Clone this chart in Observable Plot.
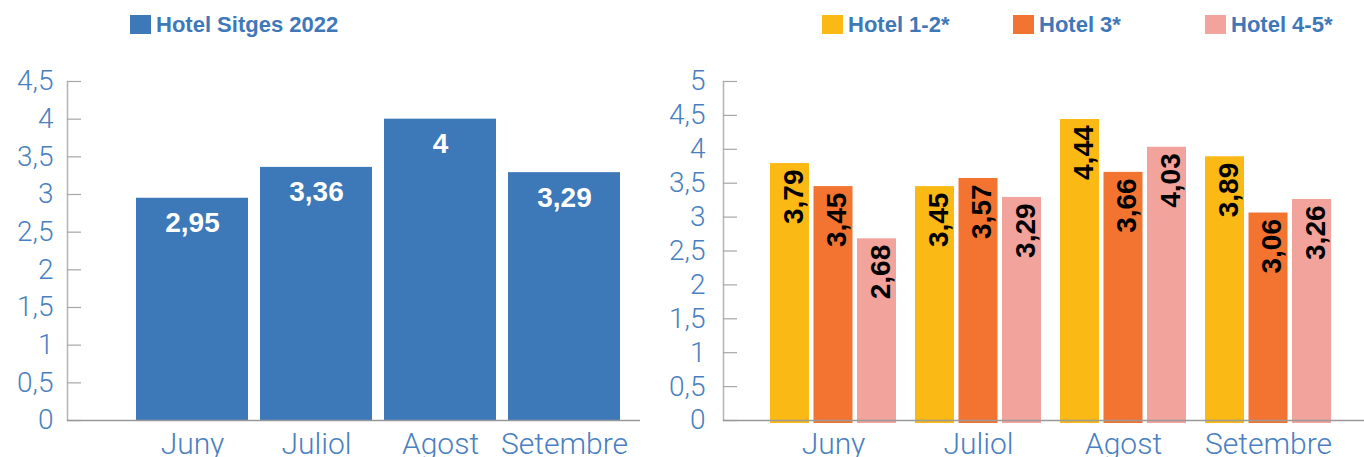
<!DOCTYPE html>
<html><head><meta charset="utf-8">
<script src="https://cdn.jsdelivr.net/npm/d3@7"></script>
<script src="https://cdn.jsdelivr.net/npm/@observablehq/plot@0.6"></script>
<style>
body{margin:0;background:#fff;}
#wrap{position:relative;width:1364px;height:457px;overflow:hidden;font-family:"Liberation Sans",Arial,sans-serif;}
.panel{position:absolute;top:0;}
.leg{position:absolute;top:15px;height:19px;display:flex;align-items:center;font-weight:bold;font-size:22px;color:#3f78b8;white-space:nowrap;}
.sw{width:21px;height:19px;margin-right:5px;flex:none;}
</style></head><body><div id="wrap"></div>
<script>
const months = ["Juny", "Juliol", "Agost", "Setembre"];
const sitges2022 = [2.95, 3.36, 4, 3.29];
const series = ["Hotel 1-2*", "Hotel 3*", "Hotel 4-5*"];
const hotel12 = [3.79, 3.45, 4.44, 3.89];
const hotel3 = [3.45, 3.57, 3.66, 3.06];
const hotel45 = [2.68, 3.29, 4.03, 3.26];
const leftTicks = [0, 0.5, 1, 1.5, 2, 2.5, 3, 3.5, 4, 4.5];
const rightTicks = [0, 0.5, 1, 1.5, 2, 2.5, 3, 3.5, 4, 4.5, 5];
const seriesColors = ["#fbb915", "#f37331", "#f2a39b"];
const sitgesColor = "#3d78b9";

const fmt = d => String(d).replace(".", ",");
const tickFont = "Roboto, 'Liberation Sans', Arial, sans-serif";
const labelFont = "'Liberation Sans', Arial, sans-serif";
const tickColor = "#4a80c0";
const axisGray = "#a6a6a6";

const wrap = document.getElementById("wrap");

// Left chart
const leftData = months.map((m, i) => ({month: m, value: sitges2022[i]}));
const LW = 660, LML = 67, LMR = 20;
const left = Plot.plot({
  width: LW, height: 457, marginLeft: LML, marginRight: LMR, marginTop: 81, marginBottom: 37,
  style: {background: "transparent", overflow: "visible"},
  x: {domain: months, range: [129, 627], paddingInner: 0.1, paddingOuter: 0.05},
  y: {domain: [0, 4.5]},
  marks: [
    Plot.barY(leftData, {x: "month", y: "value", fill: sitgesColor}),
    Plot.frame({anchor: "left", stroke: "#b4b4b4", strokeWidth: 1.5}),
    Plot.ruleY(leftTicks, {y: d => d, stroke: axisGray, strokeWidth: 1.2, insetRight: LW - LML - LMR - 14}),
    Plot.ruleY([0], {stroke: "#999", strokeWidth: 1.5}),
    Plot.axisY(leftTicks, {label: null, tickSize: 0, tickPadding: 14, tickFormat: fmt, fontSize: 28, fontWeight: 300, fontFamily: tickFont, fill: tickColor}),
    Plot.axisX({label: null, tickSize: 0, tickPadding: 12, fontSize: 30, fontWeight: 300, fontFamily: tickFont, fill: tickColor}),
    Plot.text(leftData, {x: "month", y: "value", text: d => fmt(d.value), fill: "white", fontWeight: "bold", fontSize: 28, fontFamily: labelFont, dy: 25, lineAnchor: "middle"})
  ]
});
left.classList.add("panel");
left.style.left = "0px";
wrap.appendChild(left);

// Right chart
const seriesValues = [hotel12, hotel3, hotel45];
const rightData = series.flatMap((s, j) => months.map((m, i) => ({month: m, series: s, value: seriesValues[j][i]})));
const RW = 704, RML = 63, RMR = 0;
const step = 43.5;
const rightMarks = [];
series.forEach((s, j) => {
  const sub = rightData.filter(d => d.series === s);
  rightMarks.push(Plot.barY(sub, {x: "month", y: "value", fill: "series", insetLeft: 43.5, insetRight: 43.5, insetBottom: -3, dx: (j - 1) * step}));
});
series.forEach((s, j) => {
  const sub = rightData.filter(d => d.series === s);
  rightMarks.push(Plot.text(sub, {x: "month", y: "value", text: d => fmt(d.value), rotate: -90, textAnchor: "end", lineAnchor: "middle", dx: (j - 1) * step + 4, dy: 6, fontSize: 28, fontWeight: "bold", fontFamily: labelFont, fill: "black"}));
});
const right = Plot.plot({
  width: RW, height: 457, marginLeft: RML, marginRight: RMR, marginTop: 81, marginBottom: 37,
  style: {background: "transparent", overflow: "visible"},
  x: {domain: months, range: [99, 681], paddingInner: 0.134, paddingOuter: 0.067},
  y: {domain: [0, 5]},
  color: {domain: series, range: seriesColors},
  marks: [
    ...rightMarks,
    Plot.frame({anchor: "left", stroke: "#b4b4b4", strokeWidth: 1.5}),
    Plot.ruleY(rightTicks, {y: d => d, stroke: axisGray, strokeWidth: 1.2, insetRight: RW - RML - RMR - 14}),
    Plot.ruleY([0], {stroke: "#999", strokeWidth: 1.5}),
    Plot.axisY(rightTicks, {label: null, tickSize: 0, tickPadding: 18, tickFormat: fmt, fontSize: 28, fontWeight: 300, fontFamily: tickFont, fill: tickColor}),
    Plot.axisX({label: null, tickSize: 0, tickPadding: 12, fontSize: 30, fontWeight: 300, fontFamily: tickFont, fill: tickColor})
  ]
});
right.classList.add("panel");
right.style.left = "660px";
wrap.appendChild(right);

// Legends
function addLegend(label, color, x) {
  const d = document.createElement("div");
  d.className = "leg";
  d.style.left = x + "px";
  const sw = document.createElement("div");
  sw.className = "sw";
  sw.style.background = color;
  const t = document.createElement("span");
  t.textContent = label;
  d.appendChild(sw); d.appendChild(t);
  wrap.appendChild(d);
}
addLegend("Hotel Sitges 2022", sitgesColor, 130);
const legX = [822, 1013, 1205];
series.forEach((s, j) => addLegend(s, seriesColors[j], legX[j]));
</script>
</body></html>
